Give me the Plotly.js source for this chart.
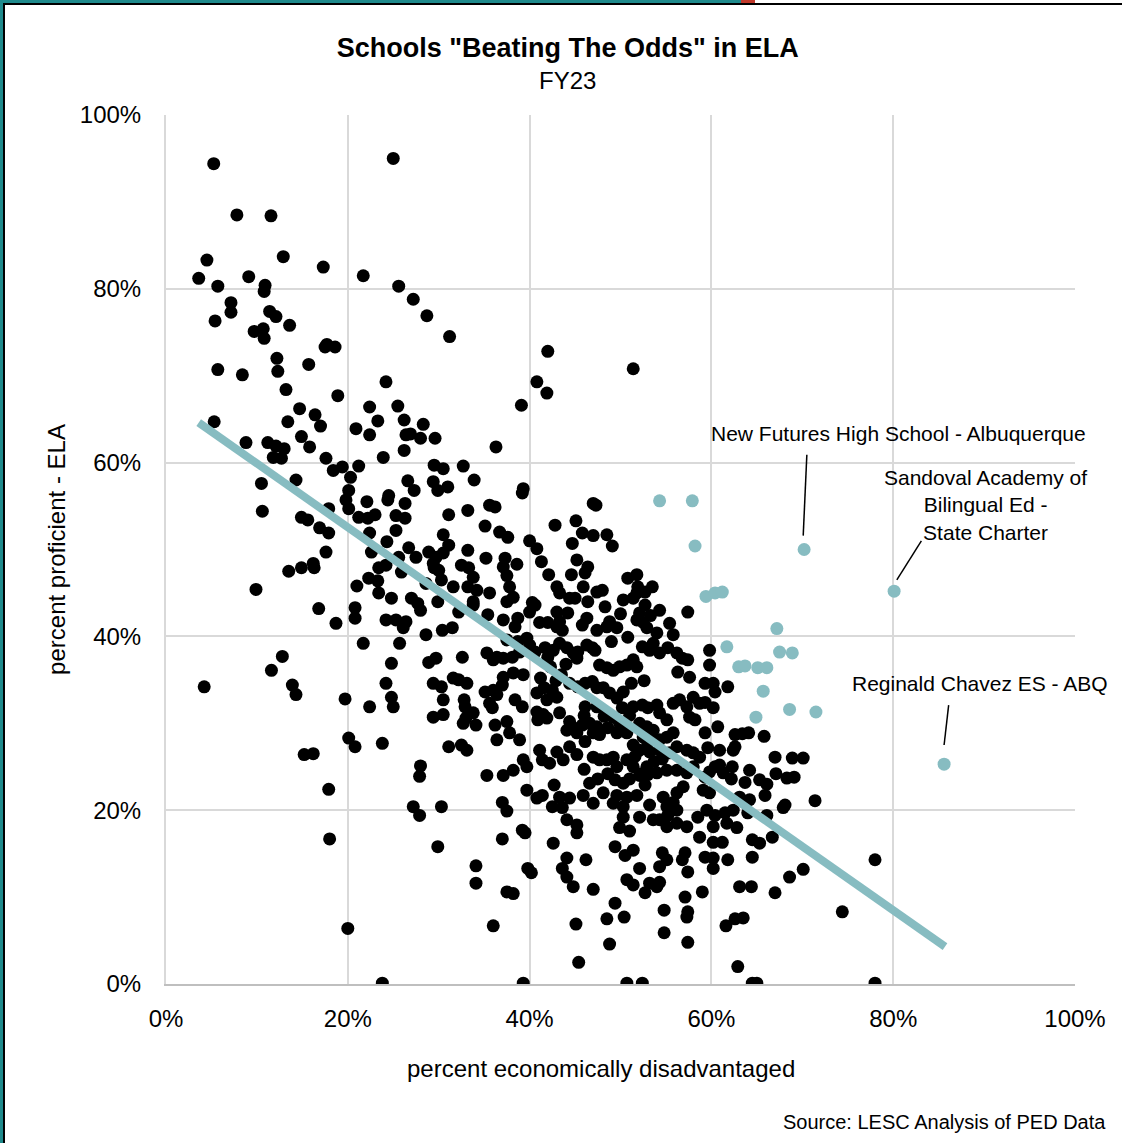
<!DOCTYPE html>
<html>
<head>
<meta charset="utf-8">
<script src="https://cdn.plot.ly/plotly-3.0.1.min.js"></script>
<style>
html,body{margin:0;padding:0;background:#fff;}
#frame{position:relative;width:1122px;height:1143px;overflow:hidden;background:#fff;}
#chart{position:absolute;left:0;top:0;width:1122px;height:1143px;}
.bar{position:absolute;}
</style>
</head>
<body>
<div id="frame">
<div id="chart"></div>
<div class="bar" style="left:0;top:0;width:741px;height:3px;background:#1f8a8c"></div>
<div class="bar" style="left:741px;top:0;width:14px;height:3px;background:#c0392b"></div>
<div class="bar" style="left:0;top:0;width:3px;height:1143px;background:#1f8a8c"></div>
<div class="bar" style="left:3px;top:3px;width:1119px;height:2px;background:#000"></div>
<div class="bar" style="left:3px;top:3px;width:2px;height:1140px;background:#000"></div>
</div>
<script>
// percent economically disadvantaged (x) vs percent proficient ELA (y), all schools
const schools = [
[5.25,94.4],[7.8,88.5],[11.55,88.4],[4.5,83.3],[12.9,83.7],[17.3,82.5],[3.6,81.2],[9.1,81.4],[5.7,80.3],[10.9,80.4],[10.8,79.7],[21.7,81.5],[25.0,95.0],[25.6,80.3],[27.2,78.8],[28.7,76.9],[31.2,74.5],[7.15,78.4],[7.15,77.3],[5.4,76.3],[11.4,77.4],[12.1,76.8],[13.6,75.8],[9.7,75.1],[10.7,75.4],[10.8,74.3],[17.7,73.6],[18.6,73.3],[17.5,73.3],[12.2,72.0],[15.7,71.3],[5.7,70.7],[8.4,70.1],[12.3,70.5],[13.2,68.4],[18.9,67.7],[24.2,69.3],[14.7,66.2],[16.4,65.5],[13.4,64.7],[17.0,64.2],[22.4,66.4],[25.5,66.5],[23.3,64.8],[26.2,64.9],[28.3,64.4],[5.3,64.7],[20.9,63.9],
[8.8,62.3],[11.2,62.3],[12.1,61.9],[13.0,61.6],[11.8,60.6],[12.7,60.5],[14.9,63.0],[15.8,61.8],[22.4,63.2],[26.4,63.2],[26.9,63.3],[28.0,62.8],[29.6,62.8],[26.2,61.4],[23.9,60.6],[17.6,60.5],[18.4,59.1],[19.4,59.5],[21.2,59.6],[20.3,58.3],[10.5,57.6],[14.3,58.0],[10.6,54.4],[17.9,54.7],[14.9,53.7],[15.6,53.4],[16.9,52.5],[17.9,51.9],[20.1,56.8],[19.8,55.7],[20.1,54.7],[22.1,55.5],[21.2,53.7],[22.2,53.6],[23.0,54.0],[22.4,51.9],[24.5,56.2],[24.4,55.7],[26.3,55.3],[25.3,53.9],[26.3,53.6],[25.3,52.2],[24.3,50.9],[22.6,49.7],[17.6,49.7],[13.5,47.5],[14.9,47.9],[16.2,48.4],[16.3,47.9],[9.9,45.4],[16.8,43.2],[18.7,41.5],[21.0,45.8],[20.8,43.3],[20.8,42.1],[22.3,46.7],[23.3,46.4],[23.4,47.9],[24.2,48.2],[23.4,45.0],[24.8,44.4],[25.6,49.1],[25.9,47.4],[26.7,50.2],[27.5,49.1],[26.6,57.9],[27.3,56.8],[29.4,57.8],[29.9,56.8],[31.0,57.2],[29.5,59.7],[30.5,59.3],[32.7,59.6],[33.9,58.0],[31.1,54.0],[33.2,54.5],[30.5,51.7],[31.1,50.5],[28.9,49.7],[29.7,49.1],[30.5,49.6],[29.4,48.4],[30.0,47.6],[29.5,47.9],[30.3,46.5],[28.6,46.1],[28.0,43.0],[27.0,44.4],[27.7,43.8],[29.9,44.0],[31.6,45.7],[32.5,48.2],[33.3,47.9],[33.2,49.9],[33.2,45.7],[32.2,42.8],[33.8,44.0],[24.2,41.9],[25.3,41.9],[26.4,41.7],[26.1,41.0],[21.7,39.2],[25.7,39.2],[24.8,36.9],[28.6,40.2],[30.4,40.7],[31.5,41.0],[28.9,37.0],[29.7,37.5],[32.6,37.6],[24.2,34.6],[24.8,33.0],[29.4,34.6],[30.3,34.2],[31.6,35.2],[32.2,35.0],[30.5,32.7],[32.8,32.7],[12.8,37.7],[11.6,36.1],[4.2,34.2],[13.9,34.4],[14.3,33.3],[19.7,32.8],[22.4,31.9],[25.0,31.9],
[32.9,31.9],[33.0,30.6],[32.7,30.0],[34.1,29.8],[29.4,30.7],[30.5,31.0],[20.1,28.3],[20.8,27.3],[23.8,27.7],[15.2,26.4],[16.2,26.5],[28.0,25.1],[27.9,23.9],[31.1,27.3],[32.5,27.5],[17.9,22.4],[27.2,20.4],[27.9,19.4],[30.3,20.4],[18.0,16.7],[29.9,15.8],[34.1,13.6],[34.1,11.6],[20.0,6.4],[23.8,0.1],
[42.0,72.8],[51.4,70.8],[40.8,69.3],[41.9,68.0],[39.1,66.6],[36.3,61.8],[39.3,57.0],[39.2,56.5],[35.6,55.1],[36.2,54.9],[35.1,52.7],[47.0,55.3],[47.3,55.1],[42.8,52.8],[45.1,53.3],[45.8,51.9],[47.0,51.6],[48.5,51.7],[49.1,50.4],[44.7,50.7],[36.7,52.0],[37.6,51.4],[40.0,51.0],[40.8,50.1],[35.2,49.0],[37.3,49.0],[37.1,48.0],[37.5,47.0],[38.6,48.3],[41.3,48.6],[42.1,47.1],[44.6,47.1],[45.2,48.8],[46.4,48.0],[46.1,47.3],[50.8,46.7],[51.8,47.1],[43.0,45.7],[45.9,45.7],[48.0,45.3],[51.9,45.7],[53.5,45.7],
[33.8,46.8],[34.2,45.3],[35.6,45.0],[37.8,45.7],[38.2,44.5],[37.5,44.0],[43.3,45.0],[44.4,44.4],[45.0,44.4],[47.4,45.1],[46.4,44.0],[48.3,43.4],[50.3,44.2],[51.8,45.0],[52.7,45.1],[51.4,44.4],[52.7,43.6],[33.8,43.6],[35.4,42.5],[37.1,41.9],[38.7,42.1],[38.4,41.1],[40.3,43.9],[40.6,43.6],[40.0,42.8],[41.1,41.6],[42.0,41.6],[43.0,41.1],[43.6,40.7],[43.3,41.7],[44.2,42.7],[43.0,42.8],[45.8,41.3],[47.4,40.7],[48.5,41.1],[48.8,41.7],[49.6,41.0],[52.1,42.7],[51.8,41.9],[52.5,41.6],[52.9,41.0],[54.0,40.4],[50.8,39.9],[57.4,42.8],[39.7,39.8],[40.0,39.0],[38.7,39.4],[37.5,39.6],[35.3,38.1],[36.4,37.6],[36.0,37.3],[37.1,37.5],[38.1,37.6],[38.9,38.2],[40.6,38.2],[41.7,38.7],[42.0,37.6],[42.6,38.4],[43.3,39.2],[44.1,38.7],[44.8,38.1],[45.2,37.5],[45.3,38.2],[46.3,39.0],[46.9,38.7],[47.2,38.4],[47.7,36.7],[48.5,36.4],[49.2,36.1],[49.9,36.5],[50.7,36.7],[51.4,37.3],[51.8,36.5],[52.4,38.8],[53.2,38.4],[53.6,39.2],[54.3,38.1],[55.2,38.7],[56.2,38.1],[56.8,37.5],[57.4,37.3],[56.3,35.9],[57.6,35.3],[33.1,34.6],[35.1,33.6],[36.0,33.8],[36.4,33.3],[35.6,32.3],[35.9,31.8],[37.1,35.3],[37.0,34.4],[38.2,35.8],[39.3,35.6],[38.4,32.7],[39.2,31.9],[40.8,33.5],[41.9,32.7],[42.5,33.8],[43.0,33.0],[44.4,34.6],[45.3,34.2],[46.1,34.6],[46.9,34.8],[47.4,34.1],[48.1,34.1],[48.8,33.5],[49.6,32.9],[50.3,33.6],[46.1,31.9],[47.4,31.9],[51.4,31.9],[52.4,32.1],[53.0,31.8],[54.0,32.1],[54.3,31.2],[55.1,30.4],[55.8,32.3],[56.5,32.7],[57.3,31.9],[58.0,33.0],[58.7,32.3],[57.6,30.7],[58.2,30.4],[33.8,31.2],[36.2,29.8],[37.5,30.2],[36.4,28.1],[37.8,28.9],[38.9,28.1],[40.8,31.3],[41.5,31.0],[41.9,30.6],[40.9,30.4],[43.3,31.2],[44.4,30.2],[44.8,29.5],[44.1,29.2],[45.2,28.9],[46.6,30.0],[47.4,29.6],[47.0,28.9],[47.7,28.7],[46.1,27.9],[49.2,30.7],[49.9,30.0],[49.6,28.9],[50.7,28.9],[52.1,30.0],[52.9,29.6],[53.6,29.2],[52.5,28.4],[53.5,28.1],[54.3,28.1],[55.1,28.4],[55.8,28.9],[51.4,27.5],[52.1,26.9],[53.2,26.7],[54.3,26.9],[55.4,26.6],[56.2,27.3],[57.3,26.9],[58.0,26.6],[58.7,26.1],[33.1,26.9],[38.2,24.6],[39.3,25.8],[39.7,25.0],[41.1,26.9],[41.4,25.8],[42.2,25.4],[43.0,26.7],[43.7,25.8],[44.4,27.3],[45.2,26.4],[47.0,26.1],[47.7,25.8],[48.5,25.8],[49.2,26.1],[49.6,25.0],[50.7,25.8],[51.4,25.0],[52.9,25.0],[54.0,24.3],[55.1,24.6],[56.2,24.6],[57.3,24.3],[58.0,25.0],[59.8,24.4],[61.3,24.3],
[42.3,36.5],[43.5,35.6],[41.2,35.2],[44.0,36.8],[42.9,34.9],[41.6,34.1],[51.2,34.6],[52.6,34.9],[51.0,30.9],[50.2,31.8],[53.0,27.8],[52.3,24.2],[53.7,25.6],[54.6,25.9],[51.6,26.2],[48.2,30.8],[46.0,30.9],[48.6,29.5],[45.8,29.8],[50.0,42.6],[54.3,43.0],[55.4,41.5],[49.0,39.4],[55.8,40.2],[53.3,42.4],[46.3,42.1],[51.0,23.6],[48.6,24.2],[52.1,24.0],[47.5,23.6],[46.0,24.7],
[35.3,24.0],[37.1,24.0],[39.7,22.3],[40.8,21.4],[41.4,21.7],[42.7,22.9],[42.5,20.4],[43.3,21.5],[44.4,21.4],[43.6,20.3],[44.1,18.9],[45.2,18.3],[45.2,17.4],[46.6,23.1],[45.9,21.7],[47.0,20.8],[48.1,22.0],[49.4,23.5],[50.3,23.1],[49.6,21.7],[50.7,21.5],[51.8,21.7],[49.2,20.8],[50.3,20.4],[50.3,19.2],[49.9,18.0],[51.0,17.6],[52.1,19.2],[53.0,24.1],[52.7,22.9],[53.2,20.6],[53.6,18.9],[54.7,21.5],[55.1,20.4],[55.8,20.9],[56.2,20.0],[54.3,18.9],[55.2,19.4],[55.1,18.1],[56.2,18.5],[57.3,18.1],[56.9,22.7],[56.2,22.0],[58.5,19.2],[59.5,20.0],[59.1,22.3],[59.8,22.0],[49.4,15.8],[50.5,14.8],[51.4,15.4],[52.1,13.3],[50.7,12.0],[51.4,11.4],[52.7,10.5],[53.2,11.6],[54.3,11.7],[54.0,11.2],[54.6,15.1],[55.1,14.3],[54.3,13.5],[56.8,14.3],[57.1,15.1],[57.4,12.9],[57.1,10.0],[57.4,8.3],[57.3,7.7],[57.4,4.8],[54.8,8.5],[54.8,5.9],[49.4,9.3],[48.5,7.5],[50.4,7.7],[48.8,4.6],[50.7,0.1],[52.4,0.1],[36.0,6.7],[37.0,16.7],[39.2,17.7],[39.5,17.4],[37.5,10.6],[38.2,10.4],[39.8,13.3],[40.2,12.8],[37.0,20.9],[37.5,19.9],[42.6,16.2],[44.1,14.5],[43.6,13.3],[44.1,12.3],[44.8,11.2],[46.2,14.3],[47.0,10.9],[45.1,6.9],[45.4,2.5],[39.3,0.1],
[59.8,38.4],[59.8,36.7],[59.3,34.6],[60.2,34.6],[60.4,33.6],[61.8,34.2],[59.3,32.4],[60.2,31.8],[60.7,29.6],[59.3,28.9],[62.6,28.7],[63.4,28.8],[64.1,28.9],[65.8,28.5],[59.6,27.2],[60.9,26.9],[62.4,26.9],[62.6,27.3],[67.0,26.1],[68.9,26.0],[70.1,26.0],[60.4,25.0],[60.9,25.2],[62.3,25.0],[64.2,24.6],[62.2,23.6],[63.7,23.2],[65.3,23.5],[66.1,23.0],[67.1,24.2],[68.3,23.7],[69.1,23.8],[65.9,21.7],[63.1,21.5],[64.2,21.2],[59.3,23.8],[71.4,21.1],[67.9,20.3],[68.1,20.6],[66.1,19.4],[64.0,19.7],[62.4,20.0],[61.5,19.7],[60.4,19.4],[60.2,18.1],[61.7,18.5],[62.8,18.0],[64.5,16.6],[65.3,16.2],[66.7,16.9],[58.7,16.9],[60.2,16.3],[61.2,16.3],[59.3,14.6],[60.2,14.5],[60.2,13.3],[61.8,14.3],[64.5,14.6],[59.0,10.6],[63.1,11.2],[64.4,11.2],[67.0,10.5],[68.6,12.3],[70.1,13.2],[78.0,14.3],[74.4,8.3],[61.6,6.7],[62.6,7.5],[63.5,7.6],[62.9,2.0],[64.5,0.1],[65.0,0.1],[78.0,0.1]
];

// schools "beating the odds" (highlighted)
const oddsX = [54.3,57.9,58.2,59.4,60.4,61.2,61.7,63.0,63.7,65.1,66.1,65.7,64.9,67.2,67.5,68.9,68.6,71.5,70.2,80.1,85.6];
const oddsY = [55.6,55.6,50.4,44.6,45.0,45.1,38.8,36.5,36.6,36.4,36.4,33.7,30.7,40.9,38.2,38.1,31.6,31.3,50.0,45.2,25.3];

// linear trend line end points
const trendX = [3.6, 85.7];
const trendY = [64.6, 4.3];

// x/y ticks
const tickVals = [0, 20, 40, 60, 80, 100];
const tickText = ["0%", "20%", "40%", "60%", "80%", "100%"];

// labelled schools
const labels = [
  {text: "New Futures High School - Albuquerque", x: 80.6, y: 63.3, lx: [70.5, 70.1], ly: [60.9, 51.6]},
  {text: "Sandoval Academy of<br>Bilingual Ed -<br>State Charter", x: 90.1, y: 55.1, lx: [83.1, 80.4], ly: [51.0, 46.5]},
  {text: "Reginald Chavez ES - ABQ", x: 89.5, y: 34.6, lx: [86.1, 85.6], ly: [32.1, 27.5]}
];

const FONT = "Liberation Sans, Arial, sans-serif";
const TEAL = "#87bcc1";

const traces = [
  {x: schools.map(p => p[0]), y: schools.map(p => p[1]), type: "scatter", mode: "markers",
   marker: {color: "#000000", size: 13}, hoverinfo: "skip", showlegend: false},
  {x: trendX, y: trendY, type: "scatter", mode: "lines",
   line: {color: TEAL, width: 8}, hoverinfo: "skip", showlegend: false},
  {x: oddsX, y: oddsY, type: "scatter", mode: "markers",
   marker: {color: TEAL, size: 13}, hoverinfo: "skip", showlegend: false}
];

const annotations = labels.map(l => ({
  text: l.text, x: l.x, y: l.y, xref: "x", yref: "y", showarrow: false,
  font: {family: FONT, size: 21, color: "#000"}, align: "center"
}));
annotations.push({text: "FY23", xref: "paper", yref: "paper", x: 0.442, y: 1.040,
  xanchor: "center", yanchor: "middle", showarrow: false, font: {family: FONT, size: 24, color: "#000"}});
annotations.push({text: "percent economically disadvantaged", xref: "paper", yref: "paper", x: 0.4785, y: -0.0967,
  xanchor: "center", yanchor: "middle", showarrow: false, font: {family: FONT, size: 24, color: "#000"}});
annotations.push({text: "Source: LESC Analysis of PED Data", xref: "paper", yref: "paper", x: 1.036, y: -0.159,
  xanchor: "right", yanchor: "middle", showarrow: false, font: {family: FONT, size: 20, color: "#000"}});

const shapes = labels.map(l => ({
  type: "line", xref: "x", yref: "y", x0: l.lx[0], y0: l.ly[0], x1: l.lx[1], y1: l.ly[1],
  line: {color: "#000", width: 1.5}
}));

const layout = {
  width: 1122, height: 1143,
  margin: {l: 166, r: 47, t: 115, b: 159},
  paper_bgcolor: "#ffffff", plot_bgcolor: "#ffffff",
  font: {family: FONT, color: "#000"},
  title: {text: 'Schools "Beating The Odds" in ELA', xref: "paper", x: 0.442, xanchor: "center",
    yref: "container", y: 1 - 48 / 1143, yanchor: "middle",
    font: {family: FONT, size: 27, color: "#000", weight: "bold"}},
  xaxis: {range: [0, 100], tickvals: tickVals, ticktext: tickText, showgrid: true, gridcolor: "#d9d9d9", gridwidth: 2,
    zeroline: false, showline: true, linecolor: "#bfbfbf", linewidth: 2, ticks: "", ticklabelstandoff: 12,
    tickfont: {family: FONT, size: 24, color: "#000"}, fixedrange: true},
  yaxis: {range: [0, 100], tickvals: tickVals, ticktext: tickText, showgrid: true, gridcolor: "#d9d9d9", gridwidth: 2,
    zeroline: false, showline: true, linecolor: "#d9d9d9", linewidth: 2, ticks: "", ticklabelstandoff: 18,
    tickfont: {family: FONT, size: 24, color: "#000"}, fixedrange: true,
    title: {text: "percent proficient - ELA", standoff: 7, font: {family: FONT, size: 24, color: "#000"}}},
  annotations: annotations,
  shapes: shapes
};

Plotly.newPlot("chart", traces, layout, {staticPlot: true, displayModeBar: false});
</script>
</body>
</html>
